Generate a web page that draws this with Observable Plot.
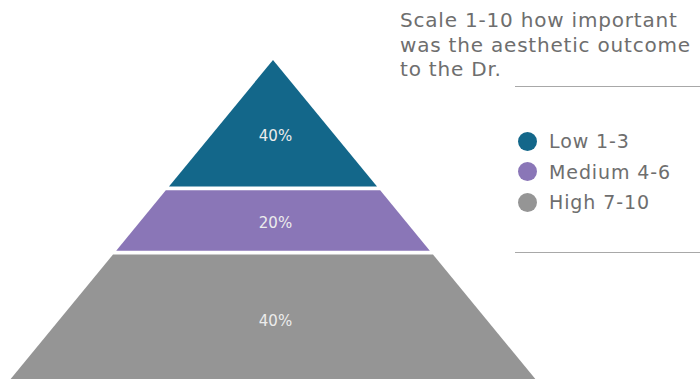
<!DOCTYPE html>
<html>
<head>
<meta charset="utf-8">
<script src="https://cdn.jsdelivr.net/npm/d3@7"></script>
<script src="https://cdn.jsdelivr.net/npm/@observablehq/plot@0.6"></script>
<style>
  html, body { margin: 0; padding: 0; background: #fff; }
  #wrap { position: relative; width: 700px; height: 379px; overflow: hidden; font-family: "DejaVu Sans", sans-serif; }
  #chart { position: absolute; left: 0; top: 0; }
  #title { position: absolute; left: 400px; top: 8px; color: #6e6e6e; font-size: 20px; line-height: 24.5px; white-space: nowrap; letter-spacing: 0.8px; }
  .rule { position: absolute; left: 515px; width: 185px; height: 0; border-top: 1.5px solid #a8a8a8; }
  #legend { position: absolute; left: 518px; top: 126px; }
  .item { display: flex; align-items: center; height: 30.5px; color: #6e6e6e; font-size: 19px; white-space: nowrap; letter-spacing: 0.9px; }
  .sw { width: 19px; height: 19px; border-radius: 50%; margin-right: 12px; flex: none; }
</style>
</head>
<body>
<div id="wrap">
  <div id="chart"></div>
  <div id="title"></div>
  <div class="rule" style="top:86px"></div>
  <div class="rule" style="top:252px"></div>
  <div id="legend"></div>
</div>
<script>
const levels = ["Low 1-3", "Medium 4-6", "High 7-10"];
const shares = [40, 20, 40];
const labels = ["40%", "20%", "40%"];
const colors = ["#13678a", "#8a76b7", "#959595"];
const titleLines = ["Scale 1-10 how important", "was the aesthetic outcome", "to the Dr."];

(function () {
  // Build pyramid bands: vertical extent proportional to share; width grows with depth.
  const gap = 0.6;
  const rows = [];
  const info = [];
  let start = 0;
  shares.forEach((s, i) => {
    const end = start + s;
    const y0 = i === 0 ? start : start + gap;
    const y1 = i === shares.length - 1 ? end : end - gap;
    for (const y of [y0, y1]) rows.push({level: levels[i], y, x1: -y / 100, x2: y / 100});
    const centroid = start + s * (start + 2 * end) / (3 * (start + end));
    const mid = (start + end) / 2;
    info.push({level: levels[i], label: labels[i], y: (centroid + mid) / 2});
    start = end;
  });

  const chart = Plot.plot({
    width: 700,
    height: 379,
    margin: 0,
    x: {domain: [-1, 1], range: [9, 537], axis: null},
    y: {domain: [0, 100], range: [60, 381], axis: null},
    color: {domain: levels, range: colors},
    marks: [
      Plot.areaX(rows, {y: "y", x1: "x1", x2: "x2", z: "level", fill: "level", curve: "linear"}),
      Plot.text(info, {x: () => 0, y: "y", dx: 2, dy: 1, text: "label", fill: "#ececec", fontSize: 15, textAnchor: "middle", lineAnchor: "middle", fontFamily: "DejaVu Sans"})
    ]
  });
  document.getElementById("chart").appendChild(chart);

  const t = document.getElementById("title");
  titleLines.forEach(l => { const d = document.createElement("div"); d.textContent = l; t.appendChild(d); });

  const lg = document.getElementById("legend");
  levels.forEach((l, i) => {
    const it = document.createElement("div"); it.className = "item";
    const sw = document.createElement("span"); sw.className = "sw"; sw.style.background = colors[i];
    const tx = document.createElement("span"); tx.textContent = l;
    it.appendChild(sw); it.appendChild(tx); lg.appendChild(it);
  });
})();
</script>
</body>
</html>
